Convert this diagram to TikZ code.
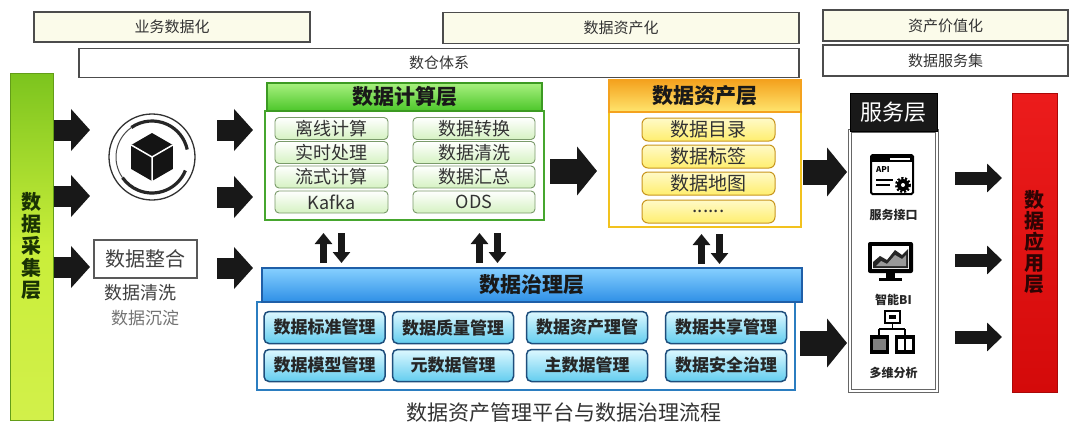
\documentclass[tikz,border=0pt]{standalone}
\usepackage{fontspec}
\setmainfont{Noto Sans CJK SC}
\usetikzlibrary{arrows.meta}
\newcommand\myfs[1]{\fontsize{#1}{#1}\selectfont}
\definecolor{cream}{HTML}{FBFBEA}
\definecolor{arrblack}{HTML}{181818}
\definecolor{gbarTop}{HTML}{7CC41E}
\definecolor{gbarMid}{HTML}{C9EE3A}
\definecolor{gbarBot}{HTML}{D2F04A}
\definecolor{gtext}{HTML}{1A3204}
\definecolor{rbarTop}{HTML}{EC1C1C}
\definecolor{rbarBot}{HTML}{D40A0A}
\definecolor{rtext}{HTML}{2E0404}
\definecolor{chdrTop}{HTML}{A8F07F}
\definecolor{chdrBot}{HTML}{4CC62A}
\definecolor{chdrLine}{HTML}{3C9A22}
\definecolor{cbodyLine}{HTML}{46A62E}
\definecolor{citemline}{HTML}{7A9A6A}
\definecolor{citemfill}{HTML}{D5F2C2}
\definecolor{ahdrTop}{HTML}{F4A21E}
\definecolor{ahdrBot}{HTML}{FFE56E}
\definecolor{abodyLine}{HTML}{F2C21E}
\definecolor{aitemline}{HTML}{C8961E}
\definecolor{aitemtop}{HTML}{FFFAC8}
\definecolor{aitembot}{HTML}{FFEE6E}
\definecolor{ghdrTop}{HTML}{86D0FF}
\definecolor{ghdrBot}{HTML}{2E8FE6}
\definecolor{ghdrLine}{HTML}{1F5FA8}
\definecolor{gbodyLine}{HTML}{2B7DC0}
\definecolor{gitemline}{HTML}{1E4E7C}
\definecolor{gitemtop}{HTML}{DDF8FF}
\definecolor{gitembot}{HTML}{63CDEF}
\begin{document}
\begin{tikzpicture}[x=1pt,y=-1pt,
 banner/.style={draw=black!70,line width=1.3pt,fill=cream,inner sep=0pt,text=black!80,font=\myfs{15}},
 blk/.style={draw=arrblack,line width=21pt,-{Triangle[length=19pt,width=41pt]}},
 blkL/.style={draw=arrblack,line width=25pt,-{Triangle[length=20pt,width=48pt]}},
 blkS/.style={draw=arrblack,line width=13pt,-{Triangle[length=15pt,width=28pt]}},
 dbl/.style={draw=arrblack,line width=7pt,-{Triangle[length=11pt,width=17pt]}},
 citem/.style={draw=citemline,line width=0.9pt,rounded corners=4pt,top color=white,bottom color=citemfill,inner sep=0pt,minimum height=22pt,text=black!80,font=\myfs{18}},
 aitem/.style={draw=aitemline,line width=1pt,rounded corners=6pt,top color=aitemtop,bottom color=aitembot,inner sep=0pt,minimum width=133pt,minimum height=23pt,text=black!80,font=\myfs{19}},
 gitem/.style={draw=gitemline,line width=1.5pt,rounded corners=5pt,top color=gitemtop,bottom color=gitembot,inner sep=0pt,minimum width=121pt,minimum height=32pt,text=black!85,font=\myfs{17}\bfseries},
 hdr/.style={inner sep=0pt,font=\myfs{21}\bfseries,text=black!90},
 svclabel/.style={font=\myfs{12}\bfseries,text=black!85,inner sep=0pt},
]
\useasboundingbox (0,0) rectangle (1080,434);
\fill[white] (0,0) rectangle (1080,434);

% top banners
\node[banner,minimum width=276pt,minimum height=30pt] (b1) at (172,27) {业务数据化};
\node[banner,minimum width=356pt,minimum height=31pt] (b2) at (621,28) {数据资产化};
\node[banner,fill=white,minimum width=720pt,minimum height=29pt] (b3) at (439,63) {数仓体系};
\node[banner,minimum width=245pt,minimum height=31pt] (b4) at (945.5,25.5) {资产价值化};
\node[banner,fill=white,minimum width=245pt,minimum height=31pt] (b5) at (945.5,60.5) {数据服务集};

% side bars
\node[draw=gbarTop!80!black,line width=1pt,top color=gbarTop,bottom color=gbarBot,middle color=gbarMid,minimum width=43pt,minimum height=347pt,inner sep=0pt] (gbar) at (31.5,246.5) {};
\node[font=\fontsize{20}{22}\selectfont\bfseries,text=gtext,align=center,inner sep=0pt] (gbarT) at (gbar.center) {数\\据\\采\\集\\层};
\node[draw=rbarBot!80!black,line width=1pt,top color=rbarTop,bottom color=rbarBot,minimum width=45pt,minimum height=299pt,inner sep=0pt] (rbar) at (1034.5,242.5) {};
\node[font=\fontsize{20}{21}\selectfont\bfseries,text=rtext,align=center,inner sep=0pt] (rbarT) at (rbar.center) {数\\据\\应\\用\\层};

% hub icon
\node[circle,draw=black!80,line width=1.3pt,minimum size=86pt,inner sep=0pt] (hub) at (152,157) {};
\begin{scope}[shift={(hub.center)},x=1pt,y=1pt]
 \draw[line width=3.2pt,black!85] (125:36) arc (125:12:36);
 \draw[line width=3.2pt,black!85] (-22:36) arc (-22:-145:36);
 \draw[line width=1pt,black!70] (125:36) arc (125:215:36);
 \fill[black!92] (90:24) -- (30:24) -- (-30:24) -- (-90:24) -- (-150:24) -- (150:24) -- cycle;
 \draw[white,line width=1.5pt] (0,0) -- (150:24) (0,0) -- (30:24) (0,0) -- (-90:24);
\end{scope}

% integration box and texts
\node[draw=black!65,line width=2.5pt,fill=white,minimum width=103pt,minimum height=38pt,inner sep=0pt,font=\myfs{20},text=black!75] (integ) at (145.5,259) {数据整合};
\node[font=\myfs{18},text=black!75,inner sep=0pt] (clean) at (140,293) {数据清洗};
\node[font=\myfs{17},text=black!55,inner sep=0pt] (settle) at (145,318) {数据沉淀};

% left arrows
\coordinate (a1e) at (90,130);
\coordinate (a2e) at (90,196);
\coordinate (a3e) at (90,267);
\draw[blk] (gbar.east |- a1e) -- (a1e);
\draw[blk] (gbar.east |- a2e) -- (a2e);
\draw[blk] (gbar.east |- a3e) -- (a3e);
\coordinate (a4s) at (217,130); \coordinate (a4e) at (253,130);
\coordinate (a5s) at (217,197); \coordinate (a5e) at (253,197);
\coordinate (a6s) at (217,268); \coordinate (a6e) at (253,268);
\draw[blk] (a4s) -- (a4e);
\draw[blk] (a5s) -- (a5e);
\draw[blk] (a6s) -- (a6e);

% compute layer
\node[draw=cbodyLine,line width=2pt,fill=white,minimum width=279pt,minimum height=109pt,inner sep=0pt] (comp) at (404.5,165.5) {};
\node[hdr,draw=chdrLine,line width=1.2pt,top color=chdrTop,bottom color=chdrBot,minimum width=275pt,minimum height=28pt] (comph) at (404.5,97) {数据计算层};
\node[citem,minimum width=113pt] (c11) at (331.5,128.5) {离线计算};
\node[citem,minimum width=113pt] (c12) at (331.5,152.5) {实时处理};
\node[citem,minimum width=113pt] (c13) at (331.5,177) {流式计算};
\node[citem,minimum width=113pt] (c14) at (331.5,202) {Kafka};
\node[citem,minimum width=122pt] (c21) at (474,128.5) {数据转换};
\node[citem,minimum width=122pt] (c22) at (474,152.5) {数据清洗};
\node[citem,minimum width=122pt] (c23) at (474,177) {数据汇总};
\node[citem,minimum width=122pt] (c24) at (474,202) {ODS};

% asset layer
\node[draw=abodyLine,line width=2.5pt,fill=white,minimum width=192pt,minimum height=115pt,inner sep=0pt] (asset) at (705,169.5) {};
\node[hdr,draw=ahdrTop,line width=1.2pt,top color=ahdrTop,bottom color=ahdrBot,minimum width=192pt,minimum height=32pt] (asseth) at (705,96) {数据资产层};
\node[aitem] (d1) at (708.5,129.5) {数据目录};
\node[aitem] (d2) at (708.5,156.5) {数据标签};
\node[aitem] (d3) at (708.5,183.5) {数据地图};
\node[aitem] (d4) at (708.5,211.5) {......};

% governance layer
\node[draw=gbodyLine,line width=1.5pt,fill=white,minimum width=538pt,minimum height=88pt,inner sep=0pt] (gov) at (526,346) {};
\node[hdr,draw=ghdrLine,line width=1.5pt,top color=ghdrTop,bottom color=ghdrBot,minimum width=540pt,minimum height=34pt] (govh) at (532,285) {数据治理层};
\node[gitem] (g11) at (324.5,327.5) {数据标准管理};
\node[gitem] (g12) at (453,327.5) {数据质量管理};
\node[gitem] (g13) at (587,327.5) {数据资产理管};
\node[gitem] (g14) at (726,327.5) {数据共享管理};
\node[gitem] (g21) at (324.5,365.5) {数据模型管理};
\node[gitem] (g22) at (453,365.5) {元数据管理};
\node[gitem] (g23) at (587,365.5) {主数据管理};
\node[gitem] (g24) at (726,365.5) {数据安全治理};

% double arrows between compute/asset and governance
\coordinate (u1t) at (323.5,233); \coordinate (u1b) at (323.5,263);
\coordinate (v1t) at (341.5,233); \coordinate (v1b) at (341.5,263);
\coordinate (u2t) at (479.5,233); \coordinate (u2b) at (479.5,263);
\coordinate (v2t) at (497.5,233); \coordinate (v2b) at (497.5,263);
\coordinate (u3t) at (701.5,234); \coordinate (u3b) at (701.5,264);
\coordinate (v3t) at (719.5,234); \coordinate (v3b) at (719.5,264);
\draw[dbl] (u1b) -- (u1t); \draw[dbl] (v1t) -- (v1b);
\draw[dbl] (u2b) -- (u2t); \draw[dbl] (v2t) -- (v2b);
\draw[dbl] (u3b) -- (u3t); \draw[dbl] (v3t) -- (v3b);

% service layer
\node[draw=black!60,line width=1pt,double=white,double distance=1.2pt,fill=white,minimum width=87pt,minimum height=260pt,inner sep=0pt] (svc) at (893.5,261) {};
\node[fill=black!90,draw=black,line width=1pt,minimum width=87pt,minimum height=38pt,inner sep=0pt,font=\myfs{22},text=white] (svch) at (893.5,112) {服务层};

% API icon
\draw[black,line width=2pt,fill=white,rounded corners=1.5pt] (871,155) rectangle (913,194);
\fill[black] (871,155) rectangle (913,162);
\fill[white] (890,157.5) rectangle (910,159.5);
\node[font=\myfs{8}\bfseries,inner sep=0pt] (apit) at (883,170) {API};
\draw[black,line width=1.6pt] (876,180) -- (893,180) (876,185) -- (890,185);
\draw[black,line width=3pt,dash pattern=on 2pt off 1.6pt] (903,185) circle (6.5);
\fill[black] (903,185) circle (6);
\fill[white] (903,185) circle (2);
\node[svclabel] (apil) at (893.5,215) {服务接口};

% BI monitor icon
\fill[black,rounded corners=2pt] (868,242) rectangle (913,273);
\fill[white] (872,246) rectangle (909,269);
\fill[black!85] (873,268) -- (873,262) -- (880,256) -- (887,260) -- (895,250) -- (902,255) -- (908,249) -- (908,268) -- cycle;
\fill[white!60!black] (876,266) -- (881,261) -- (887,264) -- (895,255) -- (902,259) -- (906,255) -- (906,266) -- cycle;
\fill[black] (886,273) rectangle (895,278);
\fill[black] (879,278) rectangle (902,281);
\node[svclabel] (bil) at (893.5,300) {智能BI};

% multi-dim icon
\draw[black,line width=2.5pt,fill=white] (885,311) rectangle (900,323);
\fill[black] (889,315) rectangle (896,319);
\draw[black,line width=1.6pt] (892.5,323) -- (892.5,329) (879,329) -- (905,329) (879,329) -- (879,335) (905,329) -- (905,335);
\fill[black] (870,335) rectangle (889,354);
\fill[black] (895,335) rectangle (915,354);
\fill[white] (898,339) rectangle (904,350);
\fill[white] (906,339) rectangle (912,350);
\fill[white!50!black] (873,339) rectangle (886,350);
\node[svclabel] (mdl) at (893.5,373) {多维分析};

% middle and right arrows
\coordinate (m1s) at (550,171); \coordinate (m1e) at (597,171);
\draw[blkL] (m1s) -- (m1e);
\coordinate (m2s) at (803,172); \coordinate (m2e) at (847,172);
\draw[blkL] (m2s) -- (m2e);
\coordinate (m3s) at (800,343); \coordinate (m3e) at (847,343);
\draw[blkL] (m3s) -- (m3e);
\coordinate (r1s) at (955,178); \coordinate (r1e) at (1002,178);
\coordinate (r2s) at (955,260); \coordinate (r2e) at (1002,260);
\coordinate (r3s) at (955,337); \coordinate (r3e) at (1002,337);
\draw[blkS] (r1s) -- (r1e);
\draw[blkS] (r2s) -- (r2e);
\draw[blkS] (r3s) -- (r3e);

% title
\node[font=\myfs{21},text=black!80,inner sep=0pt] (title) at (564,413) {数据资产管理平台与数据治理流程};
\end{tikzpicture}
\end{document}
